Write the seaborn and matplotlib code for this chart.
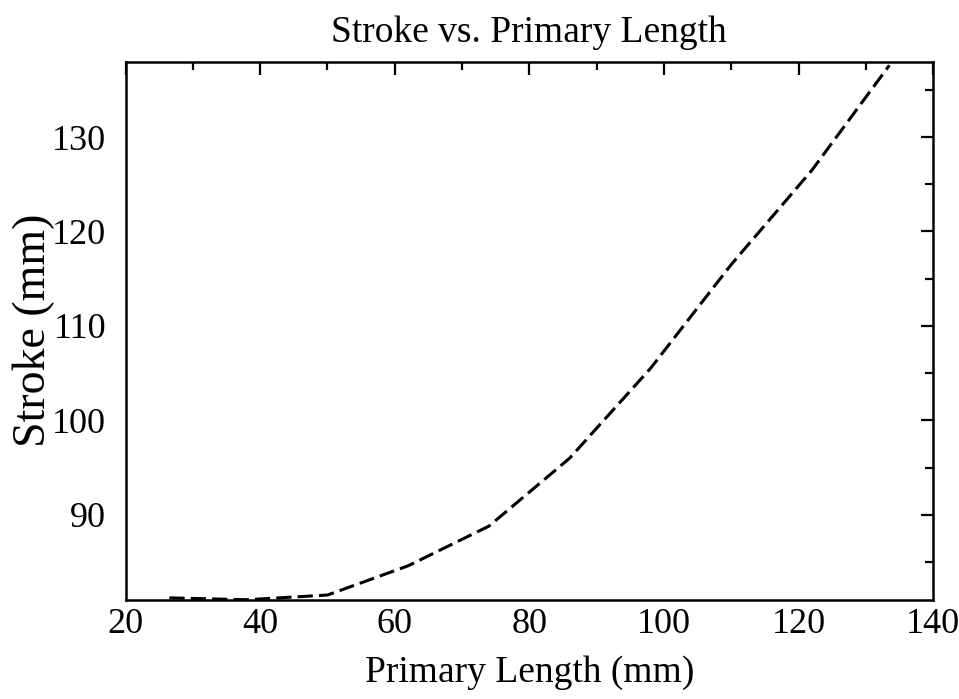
import numpy as np
import pandas as pd
import matplotlib
matplotlib.use('Agg')
import matplotlib.pyplot as plt
import seaborn as sns
from matplotlib.ticker import MultipleLocator

# data
primary_length = [26.5, 38, 50, 62, 74, 86, 98, 110, 122, 133.5]
stroke = [81.2, 81.0, 81.5, 84.6, 88.8, 96.0, 105.5, 116.5, 126.5, 137.6]

df = pd.DataFrame({'Primary Length (mm)': primary_length,
                   'Stroke (mm)': stroke})

sns.set_theme(style='white')
plt.rcParams['font.family'] = ['Liberation Serif', 'DejaVu Serif']
plt.rcParams['text.color'] = 'black'
plt.rcParams['axes.labelcolor'] = 'black'
plt.rcParams['xtick.color'] = 'black'
plt.rcParams['ytick.color'] = 'black'

fig = plt.figure(figsize=(9.59, 6.99), dpi=100)
ax = fig.add_axes([0.131, 0.142, 0.842, 0.770])

sns.lineplot(data=df, x='Primary Length (mm)', y='Stroke (mm)', ax=ax,
             color='black', linewidth=2.2, linestyle=(0, (5, 2)))

ax.set_xlim(20, 140)
ax.set_ylim(81, 138)
ax.xaxis.set_major_locator(MultipleLocator(20))
ax.xaxis.set_minor_locator(MultipleLocator(10))
ax.yaxis.set_minor_locator(MultipleLocator(5))
ax.set_yticks([90, 100, 110, 120, 130])

ax.tick_params(which='both', direction='in', top=True, right=True,
               width=1.6, labelsize=26)
ax.tick_params(axis='x', pad=6)
ax.tick_params(axis='y', pad=14)
ax.tick_params(which='major', length=9)
ax.tick_params(which='minor', length=6)
for s in ax.spines.values():
    s.set_color('black')
    s.set_linewidth(1.8)

ax.set_title('Stroke vs. Primary Length', fontsize=27, pad=14)
ax.set_xlabel('Primary Length (mm)', fontsize=27, labelpad=10)
ax.set_ylabel('Stroke (mm)', fontsize=33, labelpad=-2)

fig.savefig('out.png', dpi=100)
